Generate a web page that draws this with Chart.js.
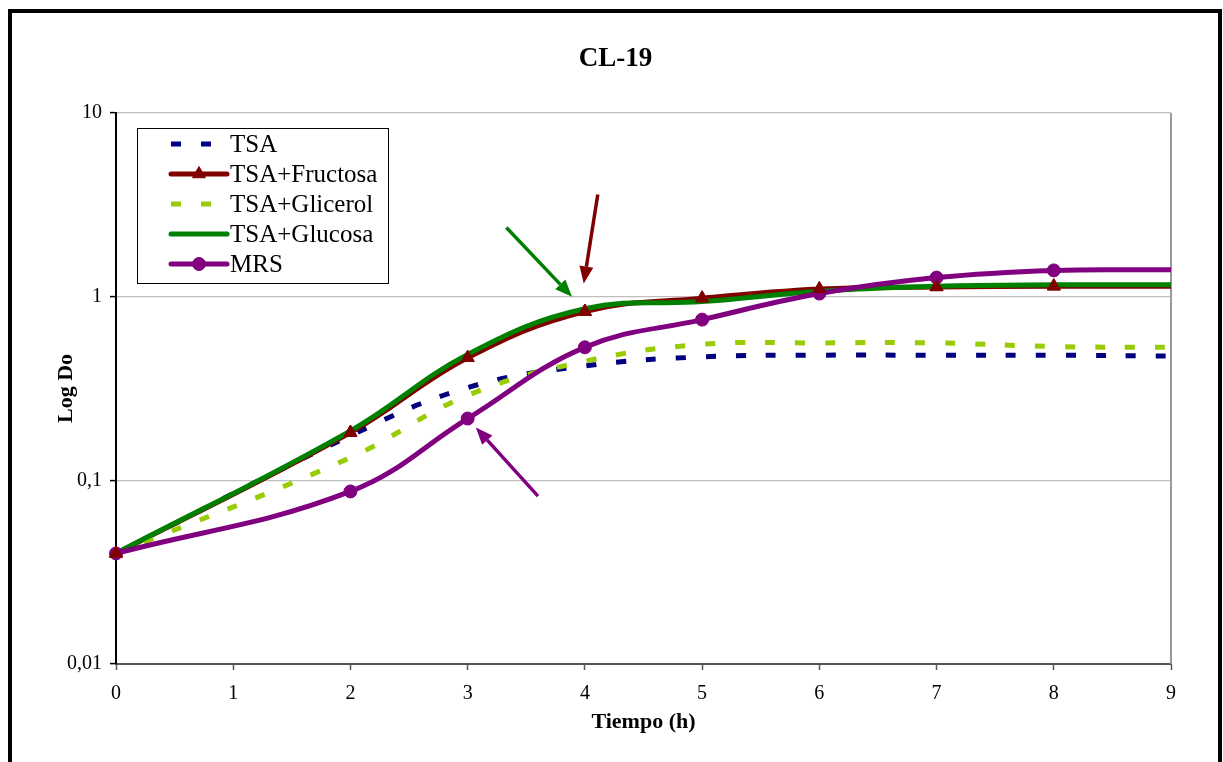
<!DOCTYPE html>
<html><head><meta charset="utf-8">
<script src="https://cdn.jsdelivr.net/npm/chart.js@4/dist/chart.umd.min.js"></script>
<style>
html,body{margin:0;padding:0;background:#fff;overflow:hidden}
#frame{position:absolute;left:8px;top:9px;width:1206px;height:800px;border:4px solid #000;}
#wrap{position:absolute;left:0;top:0;width:1223px;height:762px}
</style></head><body>
<div id="frame"></div>
<div id="wrap"><canvas id="c" width="1223" height="762"></canvas></div>
<script>
const hours = [0, 2, 3, 4, 5, 6, 7, 8, 9];
const tsa       = [0.04, 0.175, 0.32, 0.42, 0.47, 0.48, 0.48, 0.48, 0.475];
const fructosa  = [0.04, 0.182, 0.465, 0.83, 0.98, 1.10, 1.13, 1.14, 1.14];
const glicerol  = [0.04, 0.133, 0.29, 0.445, 0.55, 0.56, 0.56, 0.535, 0.53];
const glucosa   = [0.04, 0.186, 0.485, 0.86, 0.94, 1.07, 1.14, 1.16, 1.16];
const mrs       = [0.04, 0.087, 0.217, 0.53, 0.75, 1.04, 1.27, 1.39, 1.40];
const seriesNames = ['TSA', 'TSA+Fructosa', 'TSA+Glicerol', 'TSA+Glucosa', 'MRS'];
const xTickValues = [0, 1, 2, 3, 4, 5, 6, 7, 8, 9];
const yTickValues = [0.01, 0.1, 1, 10];
const yTickLabels = ['0,01', '0,1', '1', '10'];
const chartTitle = 'CL-19';
const xTitle = 'Tiempo (h)';
const yTitle = 'Log Do';
// annotation arrows in data units: [fromX, fromY, toX, toY]
const arrowGreen  = [3.33, 2.38, 3.89, 1.0];
const arrowRed    = [4.11, 3.6, 3.99, 1.18];
const arrowPurple = [3.60, 0.082, 3.07, 0.194];

const SERIF = '"Liberation Serif", "DejaVu Serif", serif';
const toXY = (ys) => hours.map((h, i) => ({x: h, y: ys[i]}));
const hideLast = (r) => (ctx) => (hours[ctx.dataIndex] === 9 ? 0 : r);

const datasets = [
  {label: seriesNames[0], data: toXY(tsa), borderColor: '#000080', borderWidth: 5, borderDash: [10, 20], pointRadius: 0, order: 5},
  {label: seriesNames[1], data: toXY(fructosa), borderColor: '#800000', borderWidth: 5, pointStyle: 'triangle', pointRadius: hideLast(7.5), pointBackgroundColor: '#800000', pointBorderColor: '#800000', pointBorderWidth: 1, order: 4},
  {label: seriesNames[2], data: toXY(glicerol), borderColor: '#99CC00', borderWidth: 5, borderDash: [10, 20], pointRadius: 0, order: 3},
  {label: seriesNames[3], data: toXY(glucosa), borderColor: '#008000', borderWidth: 5, pointRadius: 0, order: 2},
  {label: seriesNames[4], data: toXY(mrs), borderColor: '#800080', borderWidth: 5, pointStyle: 'circle', pointRadius: hideLast(6.5), pointBackgroundColor: '#800080', pointBorderColor: '#800080', pointBorderWidth: 1, order: 1}
];
datasets.forEach(d => { d.tension = 0.4; d.fill = false; d.clip = 8; });

const framePlugin = {
  id: 'plotFrame',
  beforeDatasetsDraw(chart) {
    const {ctx, chartArea: a} = chart;
    ctx.save();
    ctx.strokeStyle = '#999';
    ctx.lineWidth = 2;
    ctx.beginPath();
    ctx.moveTo(a.right, a.top); ctx.lineTo(a.right, a.bottom);
    ctx.stroke();
    ctx.restore();
  },
  afterDraw(chart) {
    const {ctx} = chart;
    ctx.save();
    ctx.fillStyle = '#000';
    ctx.font = 'bold 27px ' + SERIF;
    ctx.textAlign = 'center'; ctx.textBaseline = 'middle';
    ctx.fillText(chartTitle, chart.width / 2 + 4, 59);
    ctx.restore();
  }
};

function drawArrow(ctx, xs, ys, arr, color) {
  const x1 = xs.getPixelForValue(arr[0]), y1 = ys.getPixelForValue(arr[1]);
  const x2 = xs.getPixelForValue(arr[2]), y2 = ys.getPixelForValue(arr[3]);
  const ang = Math.atan2(y2 - y1, x2 - x1);
  const hl = 17, hw = 7;
  const bx = x2 - hl * Math.cos(ang), by = y2 - hl * Math.sin(ang);
  ctx.save();
  ctx.strokeStyle = color; ctx.fillStyle = color; ctx.lineWidth = 3.5;
  ctx.beginPath(); ctx.moveTo(x1, y1); ctx.lineTo(bx, by); ctx.stroke();
  ctx.beginPath();
  ctx.moveTo(x2, y2);
  ctx.lineTo(bx + hw * Math.sin(ang), by - hw * Math.cos(ang));
  ctx.lineTo(bx - hw * Math.sin(ang), by + hw * Math.cos(ang));
  ctx.closePath(); ctx.fill();
  ctx.restore();
}

const overlayPlugin = {
  id: 'overlay',
  afterDatasetsDraw(chart) {
    const {ctx} = chart;
    chart.getDatasetMeta(1).data.forEach(p => p.draw(ctx, chart.chartArea));
    const xs = chart.scales.x, ys = chart.scales.y;
    drawArrow(ctx, xs, ys, arrowGreen, '#008000');
    drawArrow(ctx, xs, ys, arrowRed, '#800000');
    drawArrow(ctx, xs, ys, arrowPurple, '#800080');
  }
};

const legendPlugin = {
  id: 'boxLegend',
  afterDraw(chart) {
    const {ctx, chartArea: a} = chart;
    const x0 = a.left + 21, y0 = a.top + 15, w = 251, h = 155;
    ctx.save();
    ctx.fillStyle = '#fff'; ctx.fillRect(x0, y0, w, h);
    ctx.strokeStyle = '#000'; ctx.lineWidth = 1; ctx.strokeRect(x0 + 0.5, y0 + 0.5, w, h);
    chart.data.datasets.forEach((ds, k) => {
      const y = y0 + 16 + k * 30;
      const lx1 = x0 + 34, lx2 = x0 + 90;
      ctx.save();
      ctx.strokeStyle = ds.borderColor; ctx.lineWidth = 5;
      ctx.setLineDash(ds.borderDash || []);
      ctx.lineCap = ds.borderDash ? 'butt' : 'round';
      ctx.beginPath(); ctx.moveTo(lx1, y); ctx.lineTo(ds.borderDash ? lx2 - 16 : lx2, y); ctx.stroke();
      ctx.restore();
      if (ds.pointStyle === 'triangle' || ds.pointStyle === 'circle') {
        ctx.save();
        ctx.fillStyle = ds.borderColor; ctx.strokeStyle = ds.borderColor; ctx.lineWidth = 1;
        Chart.helpers.drawPoint(ctx, {pointStyle: ds.pointStyle, radius: ds.pointStyle === 'triangle' ? 7.5 : 6.5, borderWidth: 1, rotation: 0}, (lx1 + lx2) / 2, y);
        ctx.restore();
      }
      ctx.fillStyle = '#000';
      ctx.font = '25px ' + SERIF;
      ctx.textAlign = 'left'; ctx.textBaseline = 'middle';
      ctx.fillText(ds.label, x0 + 93, y + 1);
    });
    ctx.restore();
  }
};

new Chart(document.getElementById('c'), {
  type: 'line',
  data: {datasets},
  options: {
    responsive: false,
    animation: false,
    events: [],
    layout: {padding: {left: 0, right: 52, top: 113, bottom: 0}},
    plugins: {
      legend: {display: false},
      tooltip: {enabled: false},
      title: {display: false}
    },
    scales: {
      x: {
        type: 'linear', min: 0, max: 9,
        afterBuildTicks: (s) => { s.ticks = xTickValues.map(v => ({value: v})); },
        afterFit: (s) => { s.height = 98; },
        ticks: {color: '#000', font: {family: SERIF, size: 20}, padding: 12, maxRotation: 0, autoSkip: false},
        grid: {drawOnChartArea: false, drawTicks: true, tickLength: 6, tickColor: '#555', tickWidth: 1.5},
        border: {color: '#555', width: 2},
        title: {display: true, text: xTitle, color: '#000', font: {family: SERIF, size: 22, weight: 'bold'}, padding: {top: 0, bottom: 26}}
      },
      y: {
        type: 'logarithmic', min: 0.01, max: 10,
        afterBuildTicks: (s) => { s.ticks = yTickValues.map(v => ({value: v, major: true})); },
        afterFit: (s) => { s.width = 116; },
        ticks: {color: '#000', font: {family: SERIF, size: 20}, padding: 8, callback: (v, i) => yTickLabels[i]},
        grid: {color: '#c0c0c0', lineWidth: 1.2, drawTicks: true, tickLength: 6, tickColor: '#000', tickWidth: 1.5},
        border: {color: '#000', width: 2},
        title: {display: true, text: yTitle, color: '#000', font: {family: SERIF, size: 22, weight: 'bold'}, padding: {top: 53, bottom: 0}}
      }
    }
  },
  plugins: [framePlugin, overlayPlugin, legendPlugin]
});
</script>
</body></html>
